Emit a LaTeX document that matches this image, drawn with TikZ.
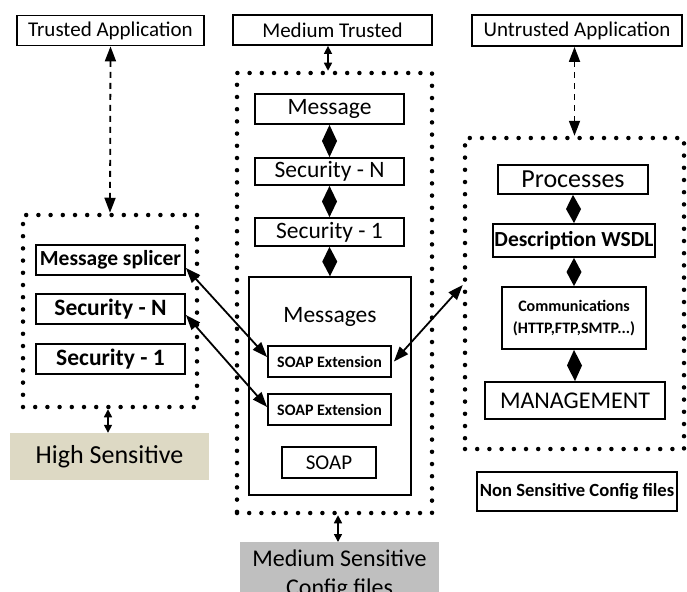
\documentclass[tikz,border=0pt]{standalone}
\usepackage{fontspec}
\setmainfont{Carlito}
\usetikzlibrary{arrows.meta,calc}
\definecolor{beige}{RGB}{221,217,196}
\definecolor{greyfill}{RGB}{191,191,191}
\newcommand\fsz[2]{\fontsize{#1}{#2}\selectfont}
% filled composition diamond spanning the gap between two stacked boxes
\newcommand\compdiamond[2]{%
  \fill ($(#1.south)$) -- ($(#1.south)!.5!(#2.north)+(7.5,0)$) -- ($(#2.north)$)
        -- ($(#1.south)!.5!(#2.north)-(7.5,0)$) -- cycle;}
\begin{document}
\begin{tikzpicture}[x=1pt,y=-1pt,
  box/.style={draw, line width=1.8pt, inner sep=0pt, align=center, font=\fsz{21}{25}},
  bigbox/.style={box, font=\fsz{23.5}{28}},
  boldbox/.style={box, font=\fsz{21.5}{26}\bfseries},
  dotbox/.style={draw, line width=4.5pt, dash pattern=on 0pt off 12.2pt, line cap=round, inner sep=0pt},
  link/.style={line width=1.8pt, {Triangle[length=15pt,width=11pt]}-{Triangle[length=15pt,width=11pt]}},
  dlink/.style={link, dash pattern=on 6pt off 5pt},
  slink/.style={line width=1.5pt, {Triangle[length=8pt,width=8pt]}-{Triangle[length=8pt,width=8pt]}},
]
\useasboundingbox (0,0) rectangle (687,591);

% ---- top applications
\node[box, minimum width=187pt, minimum height=30pt] (ta) at (110.5,30.5) {Trusted Application};
\node[box, minimum width=199pt, minimum height=30pt] (mt) at (332.5,30) {Medium Trusted};
\node[box, minimum width=210pt, minimum height=31pt] (ua) at (577,30.5) {Untrusted Application};

% ---- left zone
\node[dotbox, minimum width=174pt, minimum height=192pt] (lz) at (110,311) {};
\node[boldbox, minimum width=149pt, minimum height=30pt] (ms) at (110.5,260) {Message splicer};
\node[boldbox, font=\fsz{23.5}{28}\bfseries, minimum width=149pt, minimum height=30pt] (lsn) at (110.5,309) {Security - N};
\node[boldbox, font=\fsz{23.5}{28}\bfseries, minimum width=149pt, minimum height=30pt] (ls1) at (110.5,359) {Security - 1};
\node[fill=beige, inner sep=0pt, minimum width=199pt, minimum height=47pt, font=\fsz{26}{30}] (hs) at (109.5,456.5) {High Sensitive};

% ---- middle zone
\node[dotbox, minimum width=195pt, minimum height=440pt] (mz) at (334.5,293) {};
\node[bigbox, minimum width=149pt, minimum height=30pt] (msg) at (329.5,109) {Message};
\node[bigbox, minimum width=149pt, minimum height=27pt] (msn) at (329.5,171.5) {Security - N};
\node[bigbox, minimum width=149pt, minimum height=28pt] (ms1) at (329.5,232) {Security - 1};
\node[draw, line width=1.5pt, minimum width=162pt, minimum height=218pt] (msgs) at (330,386) {};
\node[font=\fsz{23.5}{28}, inner sep=0pt] (msgt) at (330,317) {Messages};
\node[box, font=\fsz{16}{19}\bfseries, minimum width=123pt, minimum height=31pt] (se1) at (329.5,361.5) {SOAP Extension};
\node[box, font=\fsz{16}{19}\bfseries, minimum width=123pt, minimum height=31pt] (se2) at (329.5,409.5) {SOAP Extension};
\node[box, minimum width=94pt, minimum height=31pt] (soap) at (329,462.5) {SOAP};
\node[fill=greyfill, anchor=north, inner xsep=0pt, inner ysep=8pt, minimum width=199pt, align=center,
      font=\fsz{24}{29}] (mss) at (339.5,542) {Medium Sensitive\\Config files};

% ---- right zone
\node[dotbox, minimum width=219pt, minimum height=311pt] (rz) at (574.5,293.5) {};
\node[box, font=\fsz{26}{30}, minimum width=150pt, minimum height=29pt] (pr) at (573,179.5) {Processes};
\node[boldbox, minimum width=162pt, minimum height=33pt] (wsdl) at (574,240.5) {Description WSDL};
\node[box, font=\fsz{16}{22}\bfseries, minimum width=144pt, minimum height=62pt] (com) at (574,318) {Communications\\(HTTP,FTP,SMTP...)};
\node[bigbox, font=\fsz{24}{28}, minimum width=180pt, minimum height=37pt] (mg) at (575,400.5) {MANAGEMENT};
\node[box, font=\fsz{18.6}{22}\bfseries, minimum width=200pt, minimum height=39pt] (ns) at (577,491.5) {Non Sensitive Config files};

% ---- composition diamonds
\compdiamond{msg}{msn}
\compdiamond{msn}{ms1}
\compdiamond{ms1}{msgs}
\compdiamond{pr}{wsdl}
\compdiamond{wsdl}{com}
\compdiamond{com}{mg}

% ---- connectors
\draw[dlink] (ta.south) -- (lz.north);
\draw[dlink] (ua.south -| rz.north) -- (rz.north);
\draw[slink] (lz.south -| 108,0) -- (hs.north -| 108,0);
\draw[slink] (mt.south -| 328,0) -- (mz.north -| 328,0);
\draw[slink] (mz.south -| 338,0) -- (mss.north -| 338,0);
\draw[link] ([yshift=-8pt]ms.east) -- ([yshift=4.5pt]se1.west);
\draw[link] ([yshift=-6pt]lsn.east) -- ([yshift=2.5pt]se2.west);
\draw[link] ([xshift=2pt]se1.east) -- ([yshift=8.5pt]rz.west);
\end{tikzpicture}
\end{document}
